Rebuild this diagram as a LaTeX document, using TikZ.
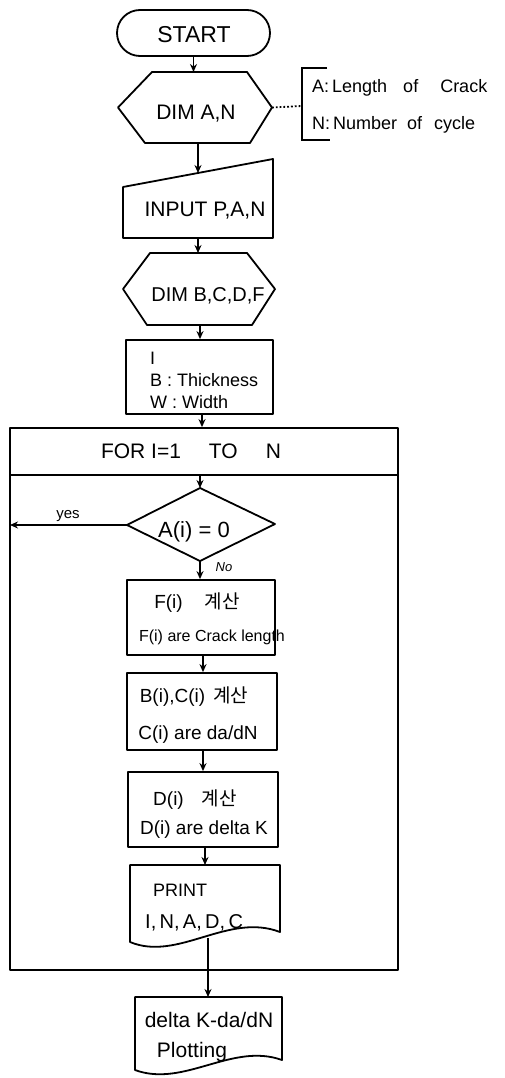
\documentclass[tikz,border=0pt]{standalone}
\usepackage{fontspec}
\setmainfont{Liberation Sans}
\newfontfamily\kr{Noto Sans CJK KR}
\usetikzlibrary{calc,arrows.meta}
\tikzset{
  shp/.style={line width=1.8pt, line join=round},
  arr/.style={line width=1.8pt, -{Stealth[length=8pt,width=7pt]}},
  txt/.style={inner sep=0pt},
  fs/.style={font=\fontsize{#1}{#1}\selectfont},
  hole/.style={draw=none, inner sep=0pt, outer sep=0pt},
}
\newcommand{\gye}{{\kr 계산}}
\begin{document}
\begin{tikzpicture}[x=1pt,y=-1pt]
\useasboundingbox[fill=white] (0,0) rectangle (505,1078);

% START
\node[shp, draw, rounded corners=23pt, minimum width=153pt, minimum height=46pt, inner sep=0pt] (start) at (193.5,33) {};
\node[txt, fs=23] (starttxt) at (194,35) {START};

% DIM A,N hexagon
\node[hole, minimum width=154pt, minimum height=71pt] (dim1) at (195,107.5) {};
\draw[shp] ($(dim1.north west)+(34,0)$) -- ($(dim1.north east)+(-25,0)$) -- (dim1.east)
  -- ($(dim1.south east)+(-22,0)$) -- ($(dim1.south west)+(27,0)$) -- (dim1.west) -- cycle;
\node[txt, fs=21] (dim1txt) at (196,114) {DIM A,N};

% annotation
\coordinate (brk) at (302,106);
\draw[line width=1.8pt, dotted] (dim1.east) -- (brk);
\draw[line width=1.8pt] (327,68) -- (302,68) -- (302,140) -- (330,140);
\node[txt, fs=18, anchor=west] (anA) at (312,88) {A:\,Length\hspace{16pt}of\hspace{22pt}Crack};
\node[txt, fs=18, anchor=west] (anN) at (312,125) {N:\,Number\hspace{10pt}of\hspace{12pt}cycle};

% INPUT
\node[hole, minimum width=150pt, minimum height=79pt] (inp) at (198,198.5) {};
\draw[shp] ($(inp.north west)+(0,28)$) -- (inp.north east) -- (inp.south east) -- (inp.south west) -- cycle;
\coordinate (inptop) at (198,173);
\node[txt, fs=21] (inptxt) at (205,211) {INPUT P,A,N};

% DIM B,C,D,F
\node[hole, minimum width=152pt, minimum height=72pt] (dim2) at (199,289) {};
\draw[shp] ($(dim2.north west)+(27,0)$) -- ($(dim2.north east)+(-28,0)$) -- (dim2.east)
  -- ($(dim2.south east)+(-23,0)$) -- ($(dim2.south west)+(24,0)$) -- (dim2.west) -- cycle;
\node[txt, fs=20] (dim2txt) at (208,296) {DIM B,C,D,F};

% I / B / W box
\node[shp, draw, minimum width=147pt, minimum height=74pt, inner sep=0pt] (ibw) at (199.5,377) {};
\node[txt, anchor=west, align=left, font=\fontsize{18}{22}\selectfont] (ibwtxt) at (150,380) {I\\B : Thickness\\W : Width};

% FOR loop
\node[shp, draw, minimum width=388pt, minimum height=542pt, inner sep=0pt] (loop) at (204,699) {};
\coordinate (hdrL) at (10,475);
\coordinate (hdrR) at (398,475);
\draw[shp] (hdrL) -- (hdrR);
\node[txt, fs=21] (fortxt) at (191,451) {FOR I=1\hspace{28pt}TO\hspace{28pt}N};
\coordinate (hdrmid) at (200,475);

% diamond
\coordinate (dT) at (200,488);
\coordinate (dL) at (127,525);
\coordinate (dR) at (275,524);
\coordinate (dB) at (200,561);
\draw[shp] (dT) -- (dR) -- (dB) -- (dL) -- cycle;
\node[txt, fs=22] (dtxt) at (194,532) {A(i) = 0};
\coordinate (yesend) at (10,525);
\node[txt, fs=15] (yes) at (68,516) {yes};
\node[txt, font=\itshape\fontsize{13}{13}\selectfont] (no) at (224,567) {No};

% F box
\node[shp, draw, minimum width=148pt, minimum height=75pt, inner sep=0pt] (fb) at (201,617.5) {};
\node[txt, fs=19] (fb1) at (197,603) {F(i)\hspace{22pt}\gye};
\node[txt, fs=16] (fb2) at (212,637) {F(i) are Crack length};

% B box
\node[shp, draw, minimum width=150pt, minimum height=77pt, inner sep=0pt] (bb) at (202,711.5) {};
\node[txt, fs=19] (bb1) at (194,697) {B(i),C(i)\hspace{8pt}\gye};
\node[txt, fs=19] (bb2) at (198,735) {C(i) are da/dN};

% D box
\node[shp, draw, minimum width=150pt, minimum height=75pt, inner sep=0pt] (db) at (203,809.5) {};
\node[txt, fs=19] (db1) at (195,800) {D(i)\hspace{18pt}\gye};
\node[txt, fs=19] (db2) at (204,830) {D(i) are delta K};

% PRINT document
\node[hole, minimum width=150pt, minimum height=70pt] (pr) at (205,900) {};
\draw[shp] (130,932) -- (pr.north west) -- (pr.north east) -- (280,932)
  .. controls (228,912) and (178,962) .. (130,942) -- cycle;
\node[txt, fs=18, anchor=west] (pr1) at (153,890) {PRINT};
\node[txt, fs=20, anchor=west] (pr2) at (145,923) {I,\,N,\,A,\,D,\,C};
\coordinate (prbot) at (208,938);

% Plot document
\node[hole, minimum width=147pt, minimum height=60pt] (pl) at (208.5,1027) {};
\draw[shp] (135,1057) -- (pl.north west) -- (pl.north east) -- (282,1060)
  .. controls (232,1042) and (184,1088) .. (135,1070) -- cycle;
\node[txt, fs=21] (pl1) at (209,1020) {delta K-da/dN};
\node[txt, fs=21] (pl2) at (192,1052) {Plotting};

% connectors
\draw[arr] (start.south) -- (start.south |- dim1.north);
\draw[arr] (dim1.south -| inptop) -- (inptop);
\draw[arr] (inp.south -| inptop) -- (inptop |- dim2.north);
\draw[arr] (dim2.south -| 200,0) -- (200,0 |- ibw.north);
\draw[arr] (ibw.south -| 202,0) -- (202,0 |- loop.north);
\draw[arr] (hdrmid) -- (dT);
\draw[arr] (dL) -- (yesend);
\draw[arr] (dB) -- (dB |- fb.north);
\draw[arr] (fb.south -| 203,0) -- (203,0 |- bb.north);
\draw[arr] (bb.south -| 203,0) -- (203,0 |- db.north);
\draw[arr] (db.south -| 205,0) -- (205,0 |- pr.north);
\draw[arr] (prbot) -- (prbot |- pl.north);
\end{tikzpicture}
\end{document}
